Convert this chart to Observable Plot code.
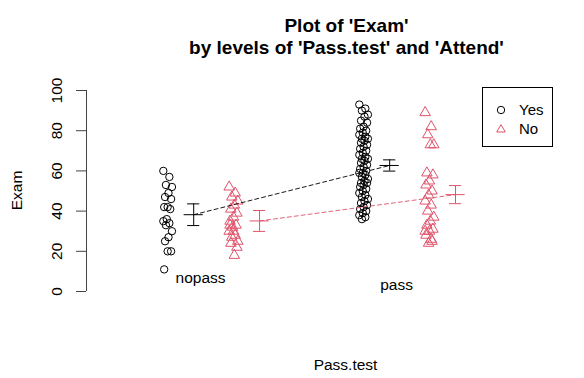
<!DOCTYPE html>
<html><head><meta charset="utf-8">
<script src="https://cdn.jsdelivr.net/npm/d3@7"></script>
<script src="https://cdn.jsdelivr.net/npm/@observablehq/plot@0.6"></script>
<style>
body{margin:0;background:#fff;}
#wrap{position:relative;width:584px;height:378px;font-family:"Liberation Sans",Arial,Helvetica,sans-serif;}
#legend{position:absolute;left:482px;top:87px;width:71px;height:60px;border:1px solid #000;box-sizing:border-box;font-size:15px;}
#legend .row{position:absolute;left:0;height:18px;line-height:18px;}
#legend svg{position:absolute;left:11px;top:2px;}
#legend span{position:absolute;left:36px;top:0;}
</style></head><body><div id="wrap"></div>
<script>
// Data
const groups = ["nopass", "pass"];
const levels = ["Yes", "No"];
const yTicks = [0, 20, 40, 60, 80, 100];

const nopassYes = [60, 57, 53, 52, 49, 47, 46, 42, 42, 41, 36, 35, 34, 33, 30, 27, 25, 20, 20, 11];
const nopassNo = [52, 49, 47, 45, 43, 41, 39, 37, 35, 33, 32, 30, 28, 27, 25, 18, 24, 22, 30, 33];
const passYes = [93, 91, 90, 88, 87, 85, 84, 82, 81, 80, 79, 78, 77, 76, 76, 75, 74, 73, 72, 71, 70, 69, 68, 67, 66, 66, 65, 64, 63, 62, 61, 60, 59, 59, 58, 57, 56, 55, 54, 54, 53, 52, 51, 50, 49, 48, 47, 46, 45, 44, 43, 42, 41, 40, 39, 38, 37, 36];
const passNo = [89, 82, 78, 73, 73, 59, 58, 55, 53, 50, 48, 45, 43, 40, 37, 35, 33, 31, 30, 28, 25, 24, 30, 26];

const meanYes = [38.2, 62.7];
const meanNo = [35.1, 48.2];
const errYes = [5.4, 2.8];
const errNo = [5.2, 4.5];

const title1 = "Plot of 'Exam'";
const title2 = "by levels of 'Pass.test' and 'Attend'";
const xLabel = "Pass.test";
const yLabel = "Exam";

// layout constants
const RED = "#DF536B";
const off = {Yes: -0.168, No: 0.168};
const meanShift = 0.133;
const jit = i => (((i * 7) % 11) - 5) / 5 * 0.022;

const series = [
  {g: 0, a: "Yes", v: nopassYes},
  {g: 0, a: "No", v: nopassNo},
  {g: 1, a: "Yes", v: passYes},
  {g: 1, a: "No", v: passNo}
];
const points = series.flatMap(s => s.v.map((v, i) => ({group: groups[s.g], attend: s.a, exam: v, x: s.g + 1 + off[s.a] + jit(i)})));
const means = groups.flatMap((g, gi) => [
  {group: g, attend: "Yes", m: meanYes[gi], e: errYes[gi], x: gi + 1 + off.Yes + meanShift},
  {group: g, attend: "No", m: meanNo[gi], e: errNo[gi], x: gi + 1 + off.No + meanShift}
]);
const mY = means.filter(d => d.attend === "Yes");
const mN = means.filter(d => d.attend === "No");
const col = d => d.attend === "Yes" ? "black" : RED;

const xDomain = [0.418, 2.806];
const font = "Liberation Sans, Arial, Helvetica, sans-serif";
const T = {textAnchor: "middle", lineAnchor: "middle", fill: "black"};

const chart = Plot.plot({
  width: 584, height: 378,
  marginLeft: 86, marginRight: 30, marginTop: 0, marginBottom: 0,
  style: {fontFamily: font, fontSize: "15.5px", background: "white", overflow: "visible"},
  x: {domain: xDomain, axis: null},
  y: {domain: [0, 100], range: [291, 90], axis: null},
  marks: [
    Plot.ruleX([xDomain[0]], {y1: yTicks[0], y2: yTicks[yTicks.length - 1], stroke: "#444"}),
    Plot.axisY({ticks: yTicks, tickSize: 10, tickFormat: () => "", label: null, stroke: "#444"}),
    Plot.text(yTicks, {...T, y: d => d, text: d => String(d), frameAnchor: "left", dx: -29, rotate: -90, fontSize: 15.5}),
    Plot.text([yLabel], {...T, text: d => d, frameAnchor: "top-left", dx: 17 - 86, dy: 190, rotate: -90, fontSize: 15.5}),
    Plot.text([xLabel], {...T, text: d => d, frameAnchor: "top-left", dx: 345 - 86, dy: 365, fontSize: 15.5}),
    Plot.text([title1], {...T, text: d => d, frameAnchor: "top-left", dx: 346 - 86, dy: 25, fontSize: 19, fontWeight: "bold"}),
    Plot.text([title2], {...T, text: d => d, frameAnchor: "top-left", dx: 346 - 86, dy: 47, fontSize: 19, fontWeight: "bold"}),
    Plot.text([groups[0]], {...T, x: 1, text: d => d, frameAnchor: "top", dy: 278, fontSize: 15.5}),
    Plot.text([groups[1]], {...T, x: 2, text: d => d, frameAnchor: "top", dy: 285, fontSize: 15.5}),
    // points
    Plot.dot(points.filter(d => d.attend === "Yes"), {x: "x", y: "exam", r: 3.7, stroke: "black", strokeWidth: 1, fill: "none", symbol: "circle"}),
    Plot.dot(points.filter(d => d.attend === "No"), {x: "x", y: "exam", r: 3.9, stroke: RED, strokeWidth: 1, fill: "none", symbol: "triangle"}),
    // mean lines
    Plot.line(mY, {x: "x", y: "m", stroke: "black", strokeWidth: 0.9, strokeDasharray: "4,3"}),
    Plot.line(mN, {x: "x", y: "m", stroke: RED, strokeWidth: 0.9, strokeDasharray: "4,3"}),
    // error bars
    Plot.ruleX(means, {x: "x", y1: d => d.m - d.e, y2: d => d.m + d.e, stroke: col}),
    Plot.ruleY(means, {y: d => d.m + d.e, x1: d => d.x - 0.031, x2: d => d.x + 0.031, stroke: col}),
    Plot.ruleY(means, {y: d => d.m - d.e, x1: d => d.x - 0.031, x2: d => d.x + 0.031, stroke: col}),
    Plot.ruleY(means, {y: "m", x1: d => d.x - 0.049, x2: d => d.x + 0.049, stroke: col})
  ]
});

const wrap = document.getElementById("wrap");
wrap.appendChild(chart);

const legend = document.createElement("div");
legend.id = "legend";
legend.innerHTML = levels.map((lv, i) => {
  const sym = lv === "Yes"
    ? `<circle cx="7" cy="7" r="3.7" fill="none" stroke="black"/>`
    : `<path d="M7,2.6L11.3,10L2.7,10Z" fill="none" stroke="${RED}"/>`;
  return `<div class="row" style="top:${13 + i * 19}px;width:70px"><svg width="14" height="14">${sym}</svg><span>${lv}</span></div>`;
}).join("");
wrap.appendChild(legend);
</script>
</body></html>
